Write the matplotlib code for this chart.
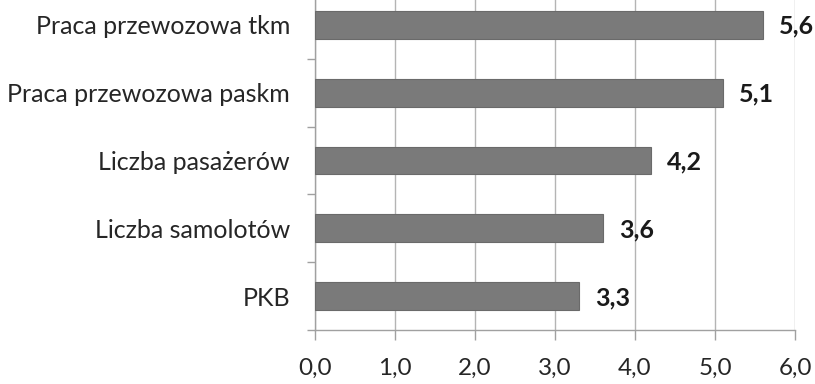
import matplotlib
matplotlib.use("Agg")
import matplotlib.pyplot as plt
from matplotlib.ticker import FixedLocator, FuncFormatter

categories = ["PKB", "Liczba samolotów", "Liczba pasażerów",
              "Praca przewozowa paskm", "Praca przewozowa tkm"]
values = [3.3, 3.6, 4.2, 5.1, 5.6]
xticks = [0, 1, 2, 3, 4, 5, 6]

plt.rcParams["font.family"] = ["Lato", "DejaVu Sans"]

fig = plt.figure(figsize=(8.15, 3.84), dpi=100)
ax = fig.add_axes([0.3865, 0.1406, 0.589, 0.883])

pos = list(range(len(categories)))
ax.barh(pos, values, height=0.41, color="#7a7a7a", edgecolor="#6a6a6a",
        linewidth=0.8, zorder=3)

for p, v in zip(pos, values):
    ax.annotate(f"{v:.1f}".replace(".", ","), xy=(v, p), xytext=(11.5, -1),
                textcoords="offset points", ha="left", va="center",
                fontsize=18, fontweight="bold", color="#1a1a1a")

ax.set_xlim(0, 6)
ax.set_ylim(-0.5, len(categories) - 0.5)
ax.set_xticks(xticks)
ax.xaxis.set_major_formatter(FuncFormatter(lambda x, _: f"{x:.1f}".replace(".", ",")))
ax.set_yticks(pos)
ax.set_yticklabels(categories)
ax.yaxis.set_minor_locator(FixedLocator([i - 0.5 for i in range(len(categories) + 1)]))

ax.tick_params(axis="y", which="major", length=0, pad=18, labelsize=18, labelcolor="#262626")
ax.tick_params(axis="y", which="minor", length=6, width=1, color="#a0a0a0")
ax.tick_params(axis="x", length=7, width=1, color="#a0a0a0", pad=13,
               labelsize=17.5, labelcolor="#262626")

ax.grid(axis="x", color="#b4b4b4", linewidth=1, zorder=0)
for side in ("top", "right"):
    ax.spines[side].set_visible(False)
for side in ("left", "bottom"):
    ax.spines[side].set_color("#a0a0a0")
    ax.spines[side].set_linewidth(1)

fig.savefig("out.png", dpi=100)
